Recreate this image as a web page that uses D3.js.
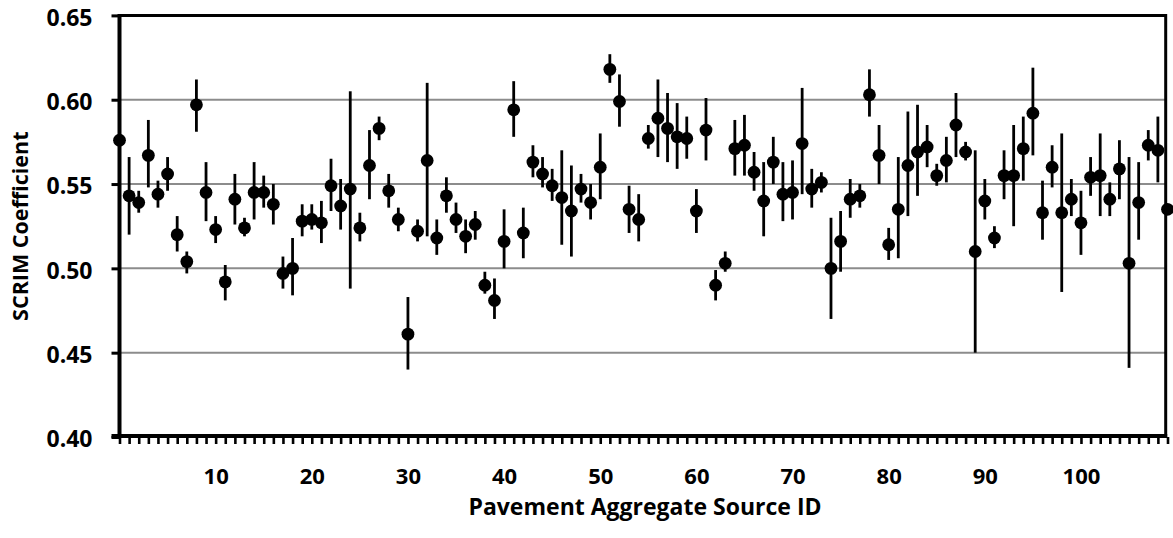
<!DOCTYPE html>
<html>
<head>
<meta charset="utf-8">
<script src="https://cdn.jsdelivr.net/npm/d3@7/dist/d3.min.js"></script>
<style>
  html, body { margin: 0; padding: 0; background: #fff; }
  svg { display: block; font-family: "Open Sans", sans-serif; font-weight: 700; }
</style>
</head>
<body>
<svg id="chart" width="1173" height="538"></svg>
<script>
// SCRIM coefficient per aggregate source (index = source ID, starting at 0)
const means = [
  0.576, 0.543, 0.539, 0.567, 0.544, 0.556, 0.520, 0.504, 0.597, 0.545,
  0.523, 0.492, 0.541, 0.524, 0.545, 0.545, 0.538, 0.497, 0.500, 0.528,
  0.529, 0.527, 0.549, 0.537, 0.547, 0.524, 0.561, 0.583, 0.546, 0.529,
  0.461, 0.522, 0.564, 0.518, 0.543, 0.529, 0.519, 0.526, 0.490, 0.481,
  0.516, 0.594, 0.521, 0.563, 0.556, 0.549, 0.542, 0.534, 0.547, 0.539,
  0.560, 0.618, 0.599, 0.535, 0.529, 0.577, 0.589, 0.583, 0.578, 0.577,
  0.534, 0.582, 0.490, 0.503, 0.571, 0.573, 0.557, 0.540, 0.563, 0.544,
  0.545, 0.574, 0.547, 0.551, 0.500, 0.516, 0.541, 0.543, 0.603, 0.567,
  0.514, 0.535, 0.561, 0.569, 0.572, 0.555, 0.564, 0.585, 0.569, 0.510,
  0.540, 0.518, 0.555, 0.555, 0.571, 0.592, 0.533, 0.560, 0.533, 0.541,
  0.527, 0.554, 0.555, 0.541, 0.559, 0.503, 0.539, 0.573, 0.570, 0.535
];
const upper = [
  0.576, 0.566, 0.546, 0.588, 0.552, 0.566, 0.531, 0.510, 0.612, 0.563,
  0.531, 0.502, 0.556, 0.530, 0.563, 0.555, 0.550, 0.507, 0.518, 0.538,
  0.538, 0.540, 0.565, 0.553, 0.605, 0.533, 0.582, 0.590, 0.556, 0.536,
  0.483, 0.529, 0.610, 0.529, 0.554, 0.539, 0.529, 0.534, 0.498, 0.494,
  0.535, 0.611, 0.536, 0.573, 0.566, 0.559, 0.570, 0.561, 0.556, 0.550,
  0.580, 0.627, 0.615, 0.549, 0.544, 0.585, 0.612, 0.604, 0.598, 0.590,
  0.547, 0.601, 0.499, 0.510, 0.588, 0.591, 0.569, 0.563, 0.578, 0.563,
  0.564, 0.607, 0.559, 0.557, 0.530, 0.534, 0.553, 0.550, 0.618, 0.585,
  0.524, 0.566, 0.593, 0.597, 0.585, 0.562, 0.578, 0.604, 0.575, 0.570,
  0.553, 0.525, 0.570, 0.585, 0.590, 0.619, 0.552, 0.573, 0.580, 0.553,
  0.546, 0.566, 0.580, 0.551, 0.576, 0.566, 0.563, 0.582, 0.590, 0.535
];
const lower = [
  0.576, 0.520, 0.533, 0.548, 0.536, 0.546, 0.510, 0.497, 0.581, 0.528,
  0.515, 0.481, 0.526, 0.519, 0.529, 0.536, 0.526, 0.488, 0.484, 0.519,
  0.523, 0.515, 0.534, 0.523, 0.488, 0.516, 0.541, 0.576, 0.536, 0.522,
  0.440, 0.516, 0.519, 0.508, 0.533, 0.521, 0.509, 0.517, 0.485, 0.470,
  0.500, 0.578, 0.506, 0.554, 0.548, 0.540, 0.514, 0.507, 0.539, 0.529,
  0.541, 0.610, 0.584, 0.521, 0.516, 0.571, 0.566, 0.563, 0.559, 0.565,
  0.521, 0.564, 0.481, 0.498, 0.555, 0.555, 0.546, 0.519, 0.550, 0.528,
  0.529, 0.544, 0.536, 0.545, 0.470, 0.498, 0.530, 0.536, 0.590, 0.550,
  0.505, 0.506, 0.531, 0.543, 0.560, 0.549, 0.551, 0.566, 0.564, 0.450,
  0.529, 0.512, 0.541, 0.525, 0.552, 0.567, 0.517, 0.548, 0.486, 0.531,
  0.508, 0.543, 0.531, 0.531, 0.541, 0.441, 0.517, 0.564, 0.551, 0.535
];
const yTicks = [0.40, 0.45, 0.50, 0.55, 0.60, 0.65];
const xLabels = [10, 20, 30, 40, 50, 60, 70, 80, 90, 100];
const xTitle = "Pavement Aggregate Source ID";
const yTitle = "SCRIM Coefficient";

const data = means.map((m, i) => ({ id: i, mean: m, hi: upper[i], lo: lower[i] }));

const width = 1173, height = 538;
const margin = { top: 15.4, right: 5.5, bottom: 101, left: 119.5 };

const svg = d3.select("#chart");

const x = d3.scaleLinear()
  .domain([0, data.length - 1])
  .range([margin.left, width - margin.right]);

const y = d3.scaleLinear()
  .domain([0.40, 0.65])
  .range([height - margin.bottom, margin.top]);

const frameRight = width - 7.3;

// grid lines
svg.append("g")
  .selectAll("line")
  .data(yTicks.filter(d => d > 0.40 && d < 0.65))
  .enter().append("line")
    .attr("x1", margin.left)
    .attr("x2", frameRight)
    .attr("y1", d => y(d))
    .attr("y2", d => y(d))
    .attr("stroke", "#8c8c8c")
    .attr("stroke-width", 2);

// plot frame (top and right)
svg.append("path")
  .attr("d", `M${margin.left},${y(0.65)}H${frameRight}V${y(0.40)}`)
  .attr("fill", "none")
  .attr("stroke", "#000")
  .attr("stroke-width", 3);

// x axis: tick at every source, labels every 10
const xAxis = g => g
  .attr("transform", `translate(0,${y(0.40)})`)
  .call(d3.axisBottom(x)
    .tickValues(data.map(d => d.id))
    .tickSize(7)
    .tickPadding(24)
    .tickFormat(d => xLabels.includes(d) ? d : ""))
  .call(g => g.select(".domain").remove())
  .call(g => g.selectAll(".tick line")
    .attr("stroke", "#000")
    .attr("stroke-width", 2.6))
  .call(g => g.selectAll(".tick text")
    .attr("fill", "#000")
    .attr("font-size", 22)
    .attr("font-weight", 700)
    .attr("font-family", "'Open Sans', sans-serif"));

const yAxis = g => g
  .attr("transform", `translate(${margin.left},0)`)
  .call(d3.axisLeft(y)
    .tickValues(yTicks)
    .tickSize(8)
    .tickPadding(19)
    .tickFormat(d3.format(".2f")))
  .call(g => g.select(".domain").remove())
  .call(g => g.selectAll(".tick line")
    .attr("stroke", "#000")
    .attr("stroke-width", 3))
  .call(g => g.selectAll(".tick text")
    .attr("fill", "#000")
    .attr("dy", "0.42em")
    .attr("font-size", 23)
    .attr("font-weight", 700)
    .attr("font-family", "'Open Sans', sans-serif"));

svg.append("g").call(xAxis);
svg.append("g").call(yAxis);

// axis lines
svg.append("line")
  .attr("x1", margin.left - 8)
  .attr("x2", frameRight + 1.5)
  .attr("y1", y(0.40) - 1)
  .attr("y2", y(0.40) - 1)
  .attr("stroke", "#000")
  .attr("stroke-width", 4);

svg.append("line")
  .attr("x1", margin.left)
  .attr("x2", margin.left)
  .attr("y1", y(0.65) - 1.5)
  .attr("y2", y(0.40))
  .attr("stroke", "#000")
  .attr("stroke-width", 4);

// error bars
svg.append("g")
  .attr("stroke", "#000")
  .attr("stroke-width", 2.8)
  .selectAll("line")
  .data(data.filter(d => d.hi > d.lo))
  .enter().append("line")
    .attr("x1", d => x(d.id))
    .attr("x2", d => x(d.id))
    .attr("y1", d => y(d.hi))
    .attr("y2", d => y(d.lo));

// means
svg.append("g")
  .attr("fill", "#000")
  .selectAll("circle")
  .data(data)
  .enter().append("circle")
    .attr("cx", d => x(d.id))
    .attr("cy", d => y(d.mean))
    .attr("r", 6.4);

// axis titles
svg.append("text")
  .attr("x", 645)
  .attr("y", 515)
  .attr("text-anchor", "middle")
  .attr("font-size", 23)
  .text(xTitle);

svg.append("text")
  .attr("transform", `translate(28,${(y(0.40) + y(0.65)) / 2}) rotate(-90)`)
  .attr("text-anchor", "middle")
  .attr("font-size", 21.5)
  .text(yTitle);
</script>
</body>
</html>
